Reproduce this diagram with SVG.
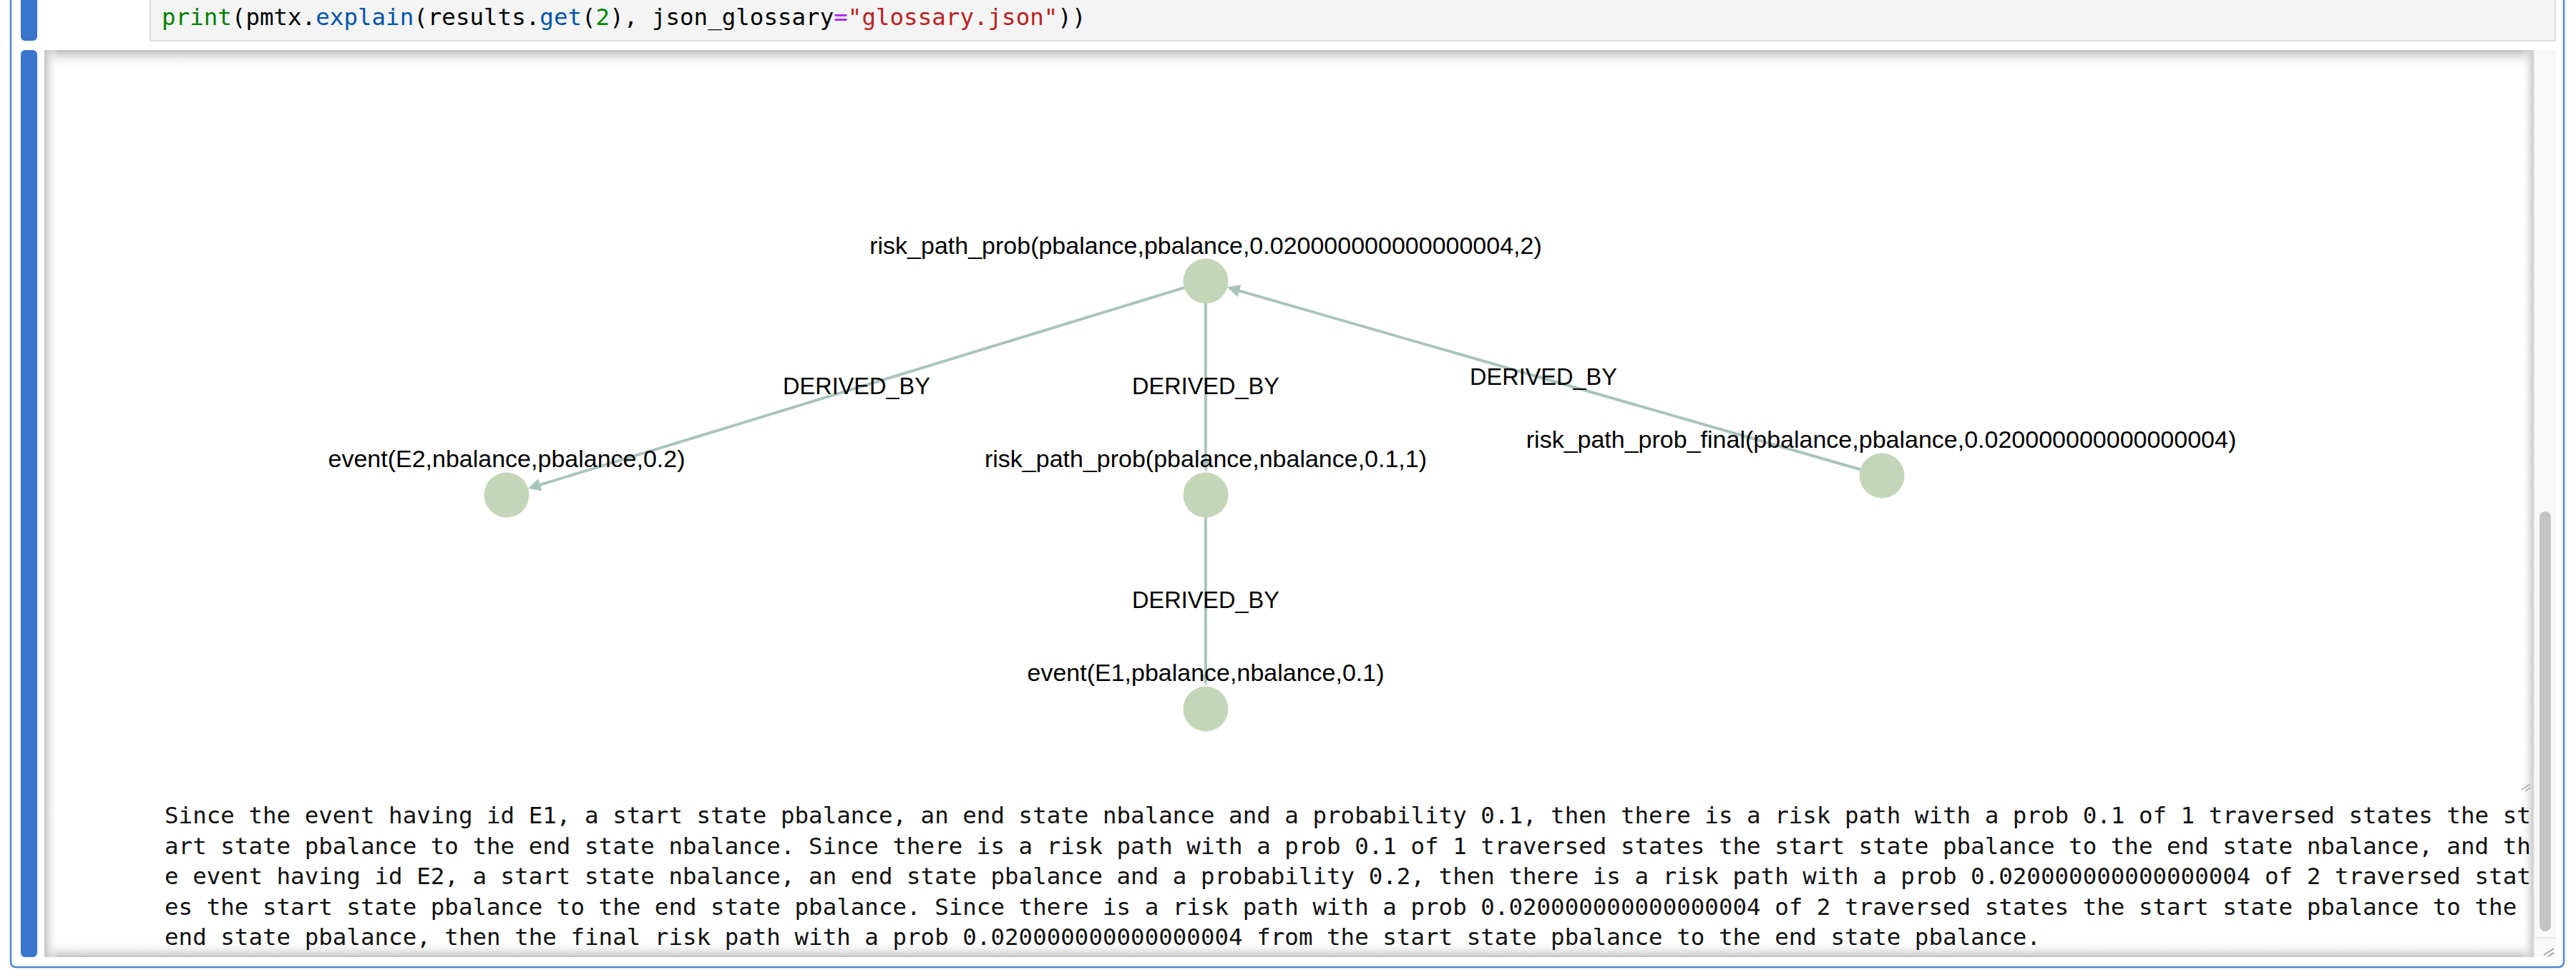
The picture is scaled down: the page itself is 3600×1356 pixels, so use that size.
<svg xmlns="http://www.w3.org/2000/svg" width="3600" height="1356" viewBox="0 0 3600 1356">
<style>
.code{font-family:"DejaVu Sans Mono","Liberation Mono",monospace;font-size:32.5px;fill:#000;white-space:pre}
.out{font-family:"DejaVu Sans Mono","Liberation Mono",monospace;font-size:32.5px;fill:#111;white-space:pre}
.nlab{font-family:"Liberation Sans",Arial,sans-serif;font-size:34px;fill:#000;text-anchor:middle}
.elab{font-family:"Liberation Sans",Arial,sans-serif;font-size:32.5px;fill:#000;text-anchor:middle}
.node{fill:#c4d6b8}
.edge{stroke:#a9c4bd;stroke-width:4;fill:none}
.bar{fill:#3a76cc}
</style>
<defs>
<marker id="arr" markerWidth="18" markerHeight="18" refX="10" refY="9" orient="auto" markerUnits="userSpaceOnUse"><path d="M0,0 L18,9 L0,18 Z" fill="#a9c4bd"/></marker>
<marker id="arrv" markerWidth="16" markerHeight="10" refX="8" refY="5" orient="auto" markerUnits="userSpaceOnUse"><path d="M0,0 L16,5 L0,10 Z" fill="#a9c4bd"/></marker>
<linearGradient id="shT" x1="0" y1="0" x2="0" y2="1"><stop offset="0" stop-color="#bdbdbd"/><stop offset="1" stop-color="#ffffff" stop-opacity="0"/></linearGradient>
<linearGradient id="shB" x1="0" y1="1" x2="0" y2="0"><stop offset="0" stop-color="#c4c4c4"/><stop offset="1" stop-color="#ffffff" stop-opacity="0"/></linearGradient>
<linearGradient id="shL" x1="0" y1="0" x2="1" y2="0"><stop offset="0" stop-color="#c4c4c4"/><stop offset="1" stop-color="#ffffff" stop-opacity="0"/></linearGradient>
<linearGradient id="shR" x1="1" y1="0" x2="0" y2="0"><stop offset="0" stop-color="#c4c4c4"/><stop offset="1" stop-color="#ffffff" stop-opacity="0"/></linearGradient>
</defs>
<rect x="0" y="0" width="3600" height="1356" fill="#fff"/>

<!-- selected cell border -->
<path d="M15,-10 V1344 Q15,1352 23,1352 H3575 Q3583,1352 3583,1344 V-10" fill="none" stroke="#4f88d6" stroke-width="2.5"/>

<!-- input cell -->
<g id="input">
<rect class="bar" x="29" y="-10" width="23" height="67" rx="6"/>
<rect x="210" y="-2" width="3361" height="59" fill="#f4f4f4" stroke="#dcdcdc" stroke-width="2"/>
<text class="code" x="226" y="35"><tspan fill="#008000">print</tspan>(pmtx.<tspan fill="#0055aa">explain</tspan>(results.<tspan fill="#0055aa">get</tspan>(<tspan fill="#008800">2</tspan>), json_glossary<tspan fill="#aa22ff">=</tspan><tspan fill="#ba2121">"glossary.json"</tspan>))</text>
</g>

<!-- output area frame -->
<g id="output-frame">
<rect class="bar" x="29" y="70" width="23" height="1268" rx="6"/>
<rect x="62" y="70" width="3510" height="1268" fill="#fff"/>
<rect x="62" y="70" width="3479" height="26" fill="url(#shT)"/>
<rect x="62" y="1314" width="3479" height="24" fill="url(#shB)"/>
<rect x="62" y="70" width="20" height="1268" fill="url(#shL)"/>
<rect x="3523" y="70" width="18" height="1268" fill="url(#shR)"/>
<rect x="3541" y="70" width="31" height="1268" fill="#f8f8f8"/>
<line x1="3541" y1="70" x2="3541" y2="1338" stroke="#e4e4e4" stroke-width="1.5"/>
<line x1="3541" y1="1311" x2="3572" y2="1311" stroke="#e4e4e4" stroke-width="1.5"/>
<rect x="3549" y="715" width="16" height="587" rx="8" fill="#c4c4c4"/>
<path d="M3524,1104 L3536,1096 M3529,1106 L3536,1101" stroke="#9a9a9a" stroke-width="1.5"/>
<path d="M3555,1335 L3569,1326 M3561,1337 L3569,1332" stroke="#9a9a9a" stroke-width="1.5"/>
</g>

<!-- connectors -->
<g id="connectors">
<line class="edge" x1="1685" y1="393" x2="745.3" y2="680.6" marker-end="url(#arr)"/>
<line class="edge" x1="1685" y1="393" x2="1685" y2="652" marker-end="url(#arrv)"/>
<line class="edge" x1="2630" y1="665" x2="1722.5" y2="403.8" marker-end="url(#arr)"/>
<line class="edge" x1="1685" y1="692" x2="1685" y2="951" marker-end="url(#arrv)"/>
<text class="elab" x="1197" y="551">DERIVED_BY</text>
<text class="elab" x="1685" y="551">DERIVED_BY</text>
<text class="elab" x="2157" y="538">DERIVED_BY</text>
<text class="elab" x="1685" y="850">DERIVED_BY</text>
</g>

<!-- nodes -->
<g id="node-top">
<circle class="node" cx="1685" cy="393" r="31.5"/>
<text class="nlab" x="1685" y="355">risk_path_prob(pbalance,pbalance,0.020000000000000004,2)</text>
</g>
<g id="node-left">
<circle class="node" cx="708" cy="692" r="31.5"/>
<text class="nlab" x="708" y="653">event(E2,nbalance,pbalance,0.2)</text>
</g>
<g id="node-middle">
<circle class="node" cx="1685" cy="692" r="31.5"/>
<text class="nlab" x="1685" y="653">risk_path_prob(pbalance,nbalance,0.1,1)</text>
</g>
<g id="node-right">
<circle class="node" cx="2630" cy="665" r="31.5"/>
<text class="nlab" x="2629" y="626">risk_path_prob_final(pbalance,pbalance,0.020000000000000004)</text>
</g>
<g id="node-bottom">
<circle class="node" cx="1685" cy="991" r="31.5"/>
<text class="nlab" x="1685" y="952">event(E1,pbalance,nbalance,0.1)</text>
</g>

<!-- text output -->
<g id="explanation">
<text class="out" x="230" y="1151">Since the event having id E1, a start state pbalance, an end state nbalance and a probability 0.1, then there is a risk path with a prob 0.1 of 1 traversed states the st</text>
<text class="out" x="230" y="1193.5">art state pbalance to the end state nbalance. Since there is a risk path with a prob 0.1 of 1 traversed states the start state pbalance to the end state nbalance, and th</text>
<text class="out" x="230" y="1236">e event having id E2, a start state nbalance, an end state pbalance and a probability 0.2, then there is a risk path with a prob 0.020000000000000004 of 2 traversed stat</text>
<text class="out" x="230" y="1278.5">es the start state pbalance to the end state pbalance. Since there is a risk path with a prob 0.020000000000000004 of 2 traversed states the start state pbalance to the</text>
<text class="out" x="230" y="1321">end state pbalance, then the final risk path with a prob 0.020000000000000004 from the start state pbalance to the end state pbalance.</text>
</g>
</svg>
